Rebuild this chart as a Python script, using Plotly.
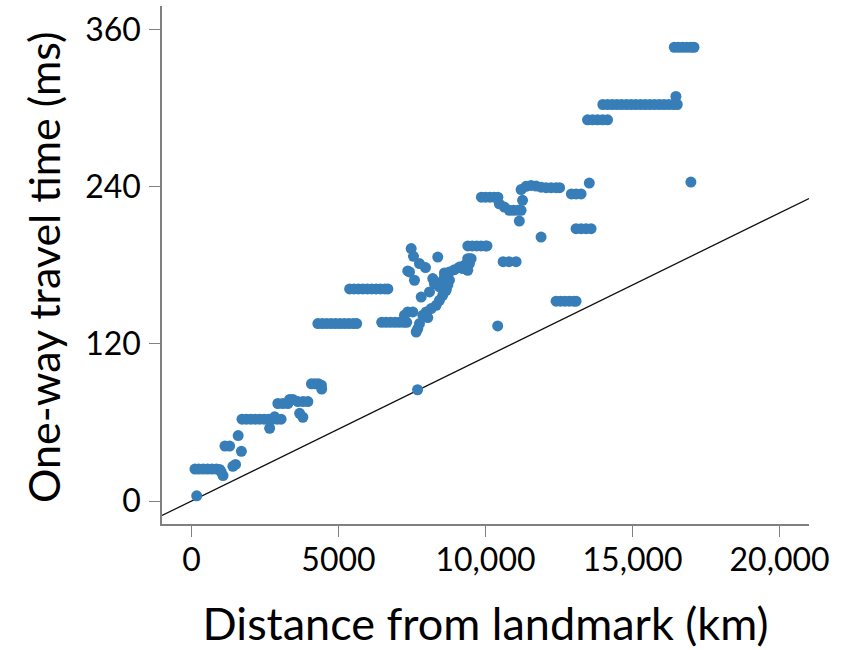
import plotly.graph_objects as go

# ---- data ----
DIST_KM = [
    180,
    120, 250, 400, 550, 700, 850, 960, 1010, 1075,
    1410, 1500,
    1140, 1300, 1590, 1700,
    1720, 1870, 2020, 2170, 2320, 2470, 2620, 2770, 2920, 3050,
    2660, 2830,
    2940, 3110, 3280, 3340, 3450, 3620, 3800, 3960, 3680, 3790,
    4080, 4200, 4320, 4420, 4430,
    4300, 4450, 4600, 4750, 4900, 5050, 5200, 5350, 5500, 5620,
    5380, 5530, 5680, 5830, 5980, 6130, 6280, 6430, 6580, 6680,
    6470, 6620, 6770, 6920, 7070, 7220, 7320,
    7690,
    7473, 7551, 7755, 7959, 7357, 7585, 8377, 8207, 8604, 8774, 8944, 9113, 9283, 9453, 9453,
    8774, 8716, 8662, 8546, 8434, 8322, 8095, 7813, 8152, 7982, 7867, 8037, 7755, 7698, 7643,
    7357, 7245, 8604, 8492, 8434, 8264, 7415, 7527,
    9400, 9550, 9700, 9850, 10000, 10050,
    9860, 10000, 10150, 10300, 10420, 10470, 10640,
    10810, 10950, 11100, 11210, 11150, 11260,
    11210, 11380, 11550, 11720, 11890, 12060, 12230, 12400, 12520,
    12920, 13080, 13250,
    13530,
    11890,
    13080, 13250, 13420, 13590,
    9395, 9511, 9226, 9396,
    10600, 10800, 11040,
    10415,
    12400, 12550, 12700, 12850, 13000, 13080,
    16420, 16560, 16700, 16840, 16980, 17090,
    13990, 14150, 14310, 14470, 14630, 14790, 14950, 15110, 15270, 15430, 15590, 15750,
    15910, 16070, 16230, 16390, 16520,
    16474,
    13470, 13640, 13810, 13980, 14150,
    16984,
]
TIME_MS = [
    4,
    24.4, 24.4, 24.4, 24.4, 24.4, 24.4, 24.2, 22.4, 19.5,
    26.5, 28,
    42, 42, 50, 38,
    62.5, 62.5, 62.5, 62.5, 62.5, 62.5, 62.5, 62.5, 62.5, 62.5,
    55.6, 64.3,
    74.5, 74.5, 74.5, 77.6, 77.6, 76, 76, 76, 67, 64,
    89.5, 89.5, 89.5, 88.5, 85.5,
    135.5, 135.5, 135.5, 135.5, 135.5, 135.5, 135.5, 135.5, 135.5, 135.5,
    162, 162, 162, 162, 162, 162, 162, 162, 162, 162,
    136.5, 136.5, 136.5, 136.5, 136.5, 136.5, 136.5,
    85,
    192.8, 186.9, 181.3, 178.3, 175.7, 168.6, 186.3, 169.9, 174.2, 174.9, 176.7, 178.7, 180.0, 181.3, 185.1,
    168.6, 164.8, 160.9, 157.1, 153.3, 149.5, 159.7, 155.8, 147.0, 144.4, 141.9, 140.1, 135.5, 131.7, 129.1,
    144.4, 141.9, 171.1, 167.3, 163.5, 166.0, 175.0, 144.4,
    194.8, 194.8, 194.8, 194.8, 194.8, 194.8,
    232, 232, 232, 232, 232, 227, 224.5,
    222, 222, 222, 222, 213.8, 229.6,
    237.8, 240.3, 241, 240.5, 239.7, 239.3, 239.3, 239.3, 239.3,
    234.5, 234.5, 234.5,
    242.8,
    201.6,
    208, 208, 208, 208,
    185.1, 185.1, 177.5, 176.2,
    182.8, 182.8, 182.8,
    133.7,
    152.6, 152.6, 152.6, 152.6, 152.6, 152.6,
    346.5, 346.5, 346.5, 346.5, 346.5, 346.5,
    302.8, 302.8, 302.8, 302.8, 302.8, 302.8, 302.8, 302.8, 302.8, 302.8, 302.8, 302.8,
    302.8, 302.8, 302.8, 302.8, 302.8,
    308.9,
    291.1, 291.1, 291.1, 291.1, 291.1,
    243.6,
]

# reference line (travel-time bound), read from its end points
LINE_X = [-1000, 21000]
LINE_Y = [-11.0, 231.0]

X_TICKS = [0, 5000, 10000, 15000, 20000]
X_TICK_TEXT = ["0", "5000", "10,000", "15,000", "20,000"]
Y_TICKS = [0, 120, 240, 360]
Y_TICK_TEXT = ["0", "120", "240", "360"]

X_TITLE = "Distance from landmark (km)"
Y_TITLE = "One-way travel time (ms)"

FONT = "Lato, 'Open Sans', sans-serif"
AXIS_GREY = "#808080"

fig = go.Figure()
fig.add_trace(go.Scatter(
    x=LINE_X, y=LINE_Y, mode="lines",
    line=dict(color="#111111", width=1.3),
    hoverinfo="skip", showlegend=False,
))
fig.add_trace(go.Scatter(
    x=DIST_KM, y=TIME_MS, mode="markers",
    marker=dict(color="#377eb8", size=11, line=dict(width=0)),
    showlegend=False,
))

fig.update_layout(
    width=841, height=650,
    margin=dict(l=162, r=32, t=6, b=126),
    paper_bgcolor="white", plot_bgcolor="white",
    font=dict(family=FONT, color="black"),
)
fig.update_xaxes(
    range=[-1000, 21000], showgrid=False, zeroline=False,
    showline=True, linecolor=AXIS_GREY, linewidth=1.5,
    ticks="outside", ticklen=11, tickwidth=1.2, tickcolor=AXIS_GREY,
    tickvals=X_TICKS, ticktext=X_TICK_TEXT,
    tickfont=dict(size=32, family=FONT, color="black"),
    ticklabelstandoff=-4,
    title=dict(text=X_TITLE, font=dict(size=45, family=FONT, color="black"), standoff=35),
)
fig.update_yaxes(
    range=[-17.5, 378], showgrid=False, zeroline=False,
    showline=True, linecolor=AXIS_GREY, linewidth=1.5,
    ticks="outside", ticklen=11, tickwidth=1.2, tickcolor=AXIS_GREY,
    tickvals=Y_TICKS, ticktext=Y_TICK_TEXT,
    tickfont=dict(size=32, family=FONT, color="black"),
    ticklabelstandoff=2,
)
# y-axis title as a rotated annotation so it can be placed exactly
fig.add_annotation(
    text=Y_TITLE, textangle=-90, showarrow=False,
    xref="paper", yref="paper", x=0, y=0.5,
    xanchor="center", yanchor="middle",
    xshift=-119, yshift=-3,
    font=dict(size=43, family=FONT, color="black"),
)

fig.write_html(
    "out.html",
    config={"displayModeBar": False},
    post_script="document.body.style.margin='0px';document.body.style.overflow='hidden';",
)
